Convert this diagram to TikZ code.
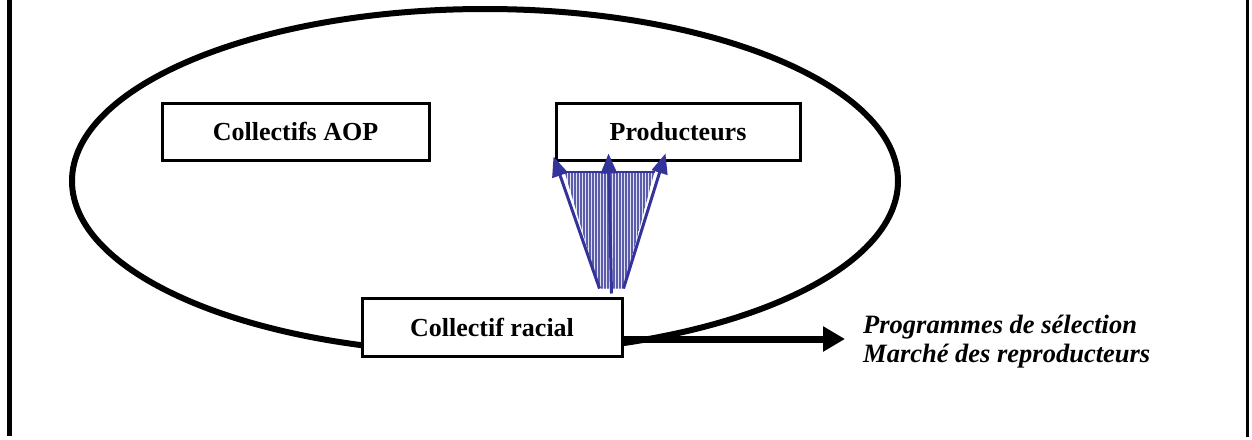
\documentclass[tikz,border=0pt]{standalone}
\usepackage{fontspec}
\setmainfont{Liberation Serif}
\usetikzlibrary{arrows.meta,calc}
\definecolor{indigo}{RGB}{51,51,153}
\definecolor{paleindigo}{RGB}{225,225,242}
\begin{document}
\begin{tikzpicture}[x=1pt,y=-1pt,
  box/.style={draw,line width=3pt,minimum height=57pt,inner sep=0pt,
    font=\fontsize{26}{30}\selectfont\bfseries},
  bluearrow/.style={draw=indigo,line width=3pt,
    -{Triangle[length=20pt,width=16pt]},indigo},
  bigarrow/.style={line width=7pt,-{Triangle[length=22pt,width=24pt]}}]
\useasboundingbox (0,0) rectangle (1252,439);
% frame sides
\draw[line width=4.5pt] (9.5,0) -- (9.5,436);
\draw[line width=3pt] (1247.5,0) -- (1247.5,437);
% ellipse
\draw[line width=6pt] (485,181) ellipse [x radius=413, y radius=172];
% boxes
\node[box,fill=white,minimum width=267pt] (aop) at (295.5,131.5) {Collectifs AOP};
\node[box,fill=white,minimum width=244pt] (prod) at (678,131.5) {Producteurs};
\node[box,fill=white,minimum width=260pt,minimum height=58pt] (racial) at (492,327) {Collectif racial};
% hatched trapezoid
\coordinate (tl) at ($(prod.south west)+(10,10)$);
\coordinate (tr) at ($(prod.south west)+(100,10)$);
\coordinate (br) at ($(racial.north east)+(0,-8)$);
\coordinate (bl) at ($(racial.north east)+(-24,-8)$);
\begin{scope}
  \clip (tl) -- (tr) -- (br) -- (bl) -- cycle;
  \fill[paleindigo] (550,160) rectangle (680,300);
  \foreach \i in {0,...,45} {
    \draw[indigo!80,line width=1.1pt] (560+3*\i,160) -- (560+3*\i,300);
  }
\end{scope}
\draw[indigo,line width=2pt] (tl) -- (tr);
% blue arrows
\draw[bluearrow] (bl) -- ($(prod.south west)+(-1,-5)$);
\draw[bluearrow] ($(racial.north east)+(-12,-3)$) -- ($(prod.south west)+(54,-8)$);
\draw[bluearrow] (br) -- ($(prod.south west)+(111,-8)$);
% output arrow
\coordinate (tip) at (845,339);
\draw[bigarrow] (racial.east |- tip) -- (tip);
\node[anchor=north west,inner sep=0pt,align=left,
  font=\fontsize{26.5}{29}\selectfont\bfseries\itshape] (out) at (863,314.5)
  {Programmes de sélection\\Marché des reproducteurs};
\end{tikzpicture}
\end{document}
